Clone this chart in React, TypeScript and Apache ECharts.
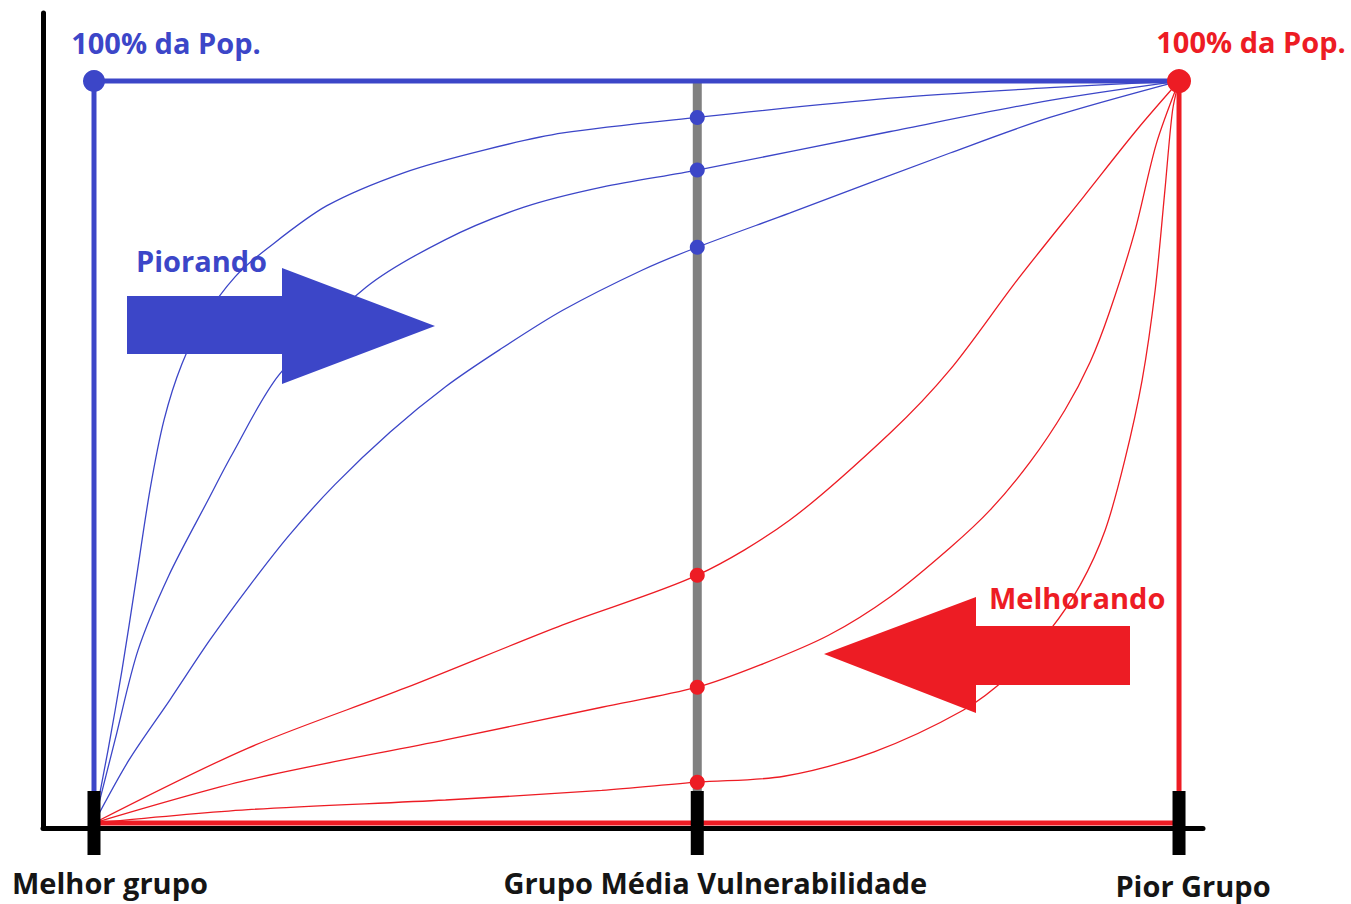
import React, { useEffect, useRef } from "react";
import * as echarts from "echarts";

// ---- data ----
const xCategories = ["Melhor grupo", "Grupo Média Vulnerabilidade", "Pior Grupo"];
const xPositions = [0, 55.6, 100];
const popLabel = "100% da Pop.";
const worseLabel = "Piorando";
const betterLabel = "Melhorando";

const blueCurve1 = [
  [0, 0], [1.29, 9.8], [2.58, 20.6], [3.87, 32.7], [5.16, 44.9], [6.45, 54.3],
  [8.11, 61.9], [10.23, 68.1], [13.0, 73.6], [15.94, 77.4], [21.47, 83.2],
  [28.66, 87.7], [35.94, 90.7], [43.23, 93.0], [55.6, 95.1], [73.4, 97.7],
  [88.1, 99.1], [100, 100],
];
const blueCurve2 = [
  [0, 0], [1.94, 11.2], [4.06, 23.3], [6.91, 33.4], [10.5, 43.5], [12.7, 49.6],
  [17.05, 60.4], [25.07, 72.2], [32.35, 78.6], [39.63, 83.0], [46.82, 85.7],
  [55.6, 88.0], [73.4, 93.2], [88.1, 97.4], [100, 100],
];
const blueCurve3 = [
  [0, 0], [3.23, 8.5], [7.0, 16.6], [10.7, 24.7], [14.4, 32.1], [18.0, 38.8],
  [22.2, 45.6], [27.3, 52.7], [32.4, 58.8], [37.4, 63.8], [43.2, 69.1],
  [50.5, 74.5], [55.6, 77.6], [64.1, 82.2], [78.9, 90.3], [88.1, 95.1], [100, 100],
];
const redCurve1 = [
  [0, 0], [14.2, 10.1], [28.7, 18.2], [43.2, 26.7], [55.6, 33.4], [64.1, 40.8],
  [73.4, 52.6], [78.9, 61.1], [85.1, 73.2], [91.2, 84.4], [96.1, 93.4], [100, 100],
];
const redCurve2 = [
  [0, 0], [14.2, 5.8], [32.4, 11.2], [46.8, 15.6], [55.6, 18.3], [61.4, 21.3],
  [67.7, 25.3], [73.4, 30.5], [78.9, 37.1], [82.6, 42.2], [86.3, 48.7],
  [89.5, 55.7], [91.8, 62.1], [93.6, 68.9], [95.9, 79.6], [97.9, 91.5], [100, 100],
];
const redCurve3 = [
  [0, 0], [14.2, 1.8], [32.4, 3.1], [46.8, 4.4], [55.6, 5.5], [63.6, 6.3],
  [71.9, 9.6], [80.1, 15.2], [84.2, 19.7], [88.1, 26.0], [90.9, 32.1],
  [93.2, 39.5], [95.0, 48.9], [96.6, 59.7], [97.8, 71.8], [98.7, 85.3],
  [99.4, 96.0], [100, 100],
];
const blueFrame = [[0, 0], [0, 100], [100, 100]];
const redFrame = [[0, 0], [100, 0], [100, 100]];
const midLine = [[55.6, 0], [55.6, 100]];
const blueMidPoints = [[55.6, 95.1], [55.6, 88.0], [55.6, 77.6]];
const redMidPoints = [[55.6, 33.4], [55.6, 18.3], [55.6, 5.5]];
const bluePopPoint = [[0, 100]];
const redPopPoint = [[100, 100]];

// ---- styles / layout ----
const BLUE = "#3c46c8";
const RED = "#ed1c24";
const GRAY = "#808080";
const DARK = "#151515";
const FONT = "'Open Sans', 'DejaVu Sans', sans-serif";
const tickLabelOffsets = [[16, 0], [18, 0], [14, 3]];

export default function App() {
  const ref = useRef<HTMLDivElement>(null);
  useEffect(() => {
    if (!ref.current) return;
    const chart = echarts.init(ref.current, undefined, { renderer: "svg" });
    const curve = (data: number[][], color: string) => ({
      type: "line",
      data,
      smooth: 0.3,
      symbol: "none",
      lineStyle: { color, width: 1.3 },
      z: 2,
      silent: true,
    });
    const dotLabel = (color: string) => ({
      show: true,
      formatter: popLabel,
      position: "top",
      offset: [72, -8],
      color,
      fontFamily: FONT,
      fontWeight: "bold",
      fontSize: 29,
    });
    const option: any = {
      animation: false,
      backgroundColor: "#ffffff",
      grid: { left: 43, right: 148, top: 13, bottom: 76 },
      xAxis: {
        type: "value",
        min: -4.7,
        max: 102.21,
        axisLine: { show: true, onZero: false, lineStyle: { color: "#000", width: 5 } },
        axisTick: { show: false },
        axisLabel: { show: false },
        splitLine: { show: false },
      },
      yAxis: {
        type: "value",
        min: -0.674,
        max: 109.17,
        axisLine: { show: true, onZero: false, lineStyle: { color: "#000", width: 5 } },
        axisTick: { show: false },
        axisLabel: { show: false },
        splitLine: { show: false },
      },
      series: [
        curve(blueCurve1, BLUE),
        curve(blueCurve2, BLUE),
        curve(blueCurve3, BLUE),
        curve(redCurve1, RED),
        curve(redCurve2, RED),
        curve(redCurve3, RED),
        {
          type: "line",
          data: midLine,
          symbol: "none",
          lineStyle: { color: GRAY, width: 9 },
          z: 3,
        },
        {
          type: "line",
          data: redFrame,
          symbol: "none",
          lineStyle: { color: RED, width: 5 },
          z: 3,
        },
        {
          type: "line",
          data: blueFrame,
          symbol: "none",
          lineStyle: { color: BLUE, width: 5 },
          z: 3,
        },
        {
          type: "scatter",
          data: xPositions.map((x, i) => ({
            value: [x, 0],
            label: { offset: tickLabelOffsets[i] },
          })),
          symbol: "rect",
          symbolSize: [13, 64],
          itemStyle: { color: "#000", opacity: 1 },
          z: 4,
          label: {
            show: true,
            position: "bottom",
            distance: 13,
            formatter: (p: any) => xCategories[p.dataIndex],
            color: DARK,
            fontFamily: FONT,
            fontWeight: "bold",
            fontSize: 29,
          },
        },
        {
          type: "scatter",
          data: blueMidPoints,
          symbolSize: 15,
          itemStyle: { color: BLUE, opacity: 1 },
          z: 5,
        },
        {
          type: "scatter",
          data: redMidPoints,
          symbolSize: 15,
          itemStyle: { color: RED, opacity: 1 },
          z: 5,
        },
        {
          type: "scatter",
          data: bluePopPoint,
          symbolSize: 22,
          itemStyle: { color: BLUE, opacity: 1 },
          z: 6,
          label: dotLabel(BLUE),
        },
        {
          type: "scatter",
          data: redPopPoint,
          symbolSize: 24,
          itemStyle: { color: RED, opacity: 1 },
          z: 6,
          label: dotLabel(RED),
        },
      ],
      graphic: [
        {
          type: "polygon",
          z: 100,
          shape: {
            points: [[127, 296], [282, 296], [282, 268], [435, 326], [282, 384], [282, 354], [127, 354]],
          },
          style: { fill: BLUE },
        },
        {
          type: "polygon",
          z: 100,
          shape: {
            points: [[824, 654], [976, 597], [976, 626], [1130, 626], [1130, 685], [976, 685], [976, 713]],
          },
          style: { fill: RED },
        },
        {
          type: "text",
          z: 101,
          x: 136,
          y: 260,
          style: {
            text: worseLabel,
            fill: BLUE,
            font: `bold 29px ${FONT}`,
            textVerticalAlign: "middle",
          },
        },
        {
          type: "text",
          z: 101,
          x: 989,
          y: 597,
          style: {
            text: betterLabel,
            fill: RED,
            font: `bold 29px ${FONT}`,
            textVerticalAlign: "middle",
          },
        },
      ],
    };
    chart.setOption(option);
    return () => chart.dispose();
  }, []);
  return (
    <div
      ref={ref}
      style={{ position: "fixed", left: 0, top: 0, width: 1351, height: 904, background: "#fff" }}
    />
  );
}
